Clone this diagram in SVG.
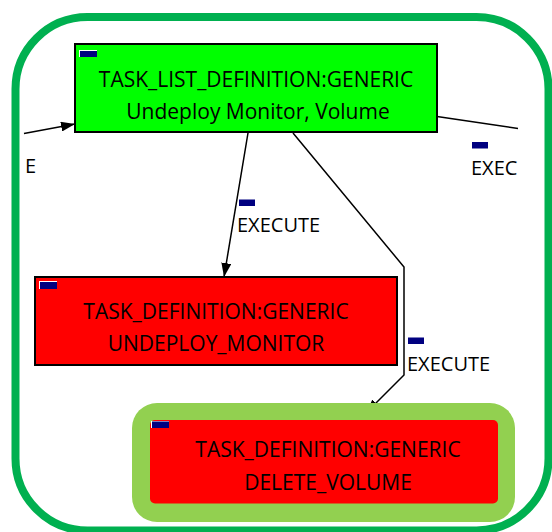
<svg xmlns="http://www.w3.org/2000/svg" width="552" height="532" viewBox="0 0 552 532">
  <style>
    .lbl { font-family: "Open Sans", "DejaVu Sans", sans-serif; font-size: 21px; fill: #000; }
    .edge-lbl { font-size: 20px; }
    .mid { text-anchor: middle; }
    .edge { fill: none; stroke: #000; stroke-width: 1.5; }
    .box { stroke: #000; stroke-width: 2; }
    .flag { fill: #000080; }
  </style>
  <defs>
    <marker id="arrow" viewBox="0 0 14 10" refX="14" refY="5" markerWidth="14" markerHeight="10" markerUnits="userSpaceOnUse" orient="auto">
      <path d="M0,0 L14,5 L0,10 Z" fill="#000"/>
    </marker>
  </defs>

  <rect width="552" height="532" fill="#fff"/>

  <!-- container frame -->
  <g id="container">
    <rect x="15.5" y="17" width="533" height="513.5" rx="72" ry="72" fill="none" stroke="#00b050" stroke-width="8"/>
  </g>

  <!-- connectors -->
  <g id="connectors">
    <line class="edge" x1="24" y1="133.5" x2="75" y2="124" marker-end="url(#arrow)"/>
    <line class="edge" x1="437" y1="116.5" x2="518" y2="128.5"/>
    <line class="edge" x1="248" y1="133" x2="224" y2="277" marker-end="url(#arrow)"/>
    <polyline class="edge" points="293,133 404,267 404,375 366,413" marker-end="url(#arrow)"/>

    <g id="label-in">
      <text class="lbl edge-lbl" x="25" y="173">E</text>
    </g>
    <g id="label-out">
      <rect class="flag" x="472" y="142" width="16" height="6.5"/>
      <text class="lbl edge-lbl" x="471" y="175">EXEC</text>
    </g>
    <g id="label-monitor">
      <rect class="flag" x="239" y="199.5" width="16" height="6.5"/>
      <text class="lbl edge-lbl" x="237" y="232">EXECUTE</text>
    </g>
    <g id="label-volume">
      <rect class="flag" x="408" y="337.5" width="16" height="6.5"/>
      <text class="lbl edge-lbl" x="407" y="371">EXECUTE</text>
    </g>
  </g>

  <!-- task list node -->
  <g id="task-list">
    <rect class="box" x="75" y="44" width="362" height="88" fill="#00ff00"/>
    <rect x="79" y="50" width="18" height="7" fill="#fff"/>
    <rect class="flag" x="80" y="51" width="17" height="6"/>
    <text class="lbl mid" x="256" y="87">TASK_LIST_DEFINITION:GENERIC</text>
    <text class="lbl mid" x="258" y="119">Undeploy Monitor, Volume</text>
  </g>

  <!-- undeploy monitor task -->
  <g id="task-undeploy-monitor">
    <rect class="box" x="35" y="277" width="362" height="88" fill="#ff0000"/>
    <rect x="39" y="281" width="18" height="8" fill="#fff"/>
    <rect class="flag" x="40" y="282" width="17" height="7"/>
    <text class="lbl mid" x="216" y="319">TASK_DEFINITION:GENERIC</text>
    <text class="lbl mid" x="216" y="351">UNDEPLOY_MONITOR</text>
  </g>

  <!-- delete volume task (highlighted) -->
  <g id="task-delete-volume">
    <rect x="132" y="403" width="383" height="119" rx="25" ry="25" fill="#92d050"/>
    <rect x="150" y="420" width="348" height="83.5" rx="5" ry="5" fill="#ff0000"/>
    <rect x="151" y="421" width="18" height="7" fill="#fff"/>
    <rect class="flag" x="152" y="421.5" width="17" height="6.5"/>
    <text class="lbl mid" x="328" y="457">TASK_DEFINITION:GENERIC</text>
    <text class="lbl mid" x="328" y="490">DELETE_VOLUME</text>
  </g>
</svg>
